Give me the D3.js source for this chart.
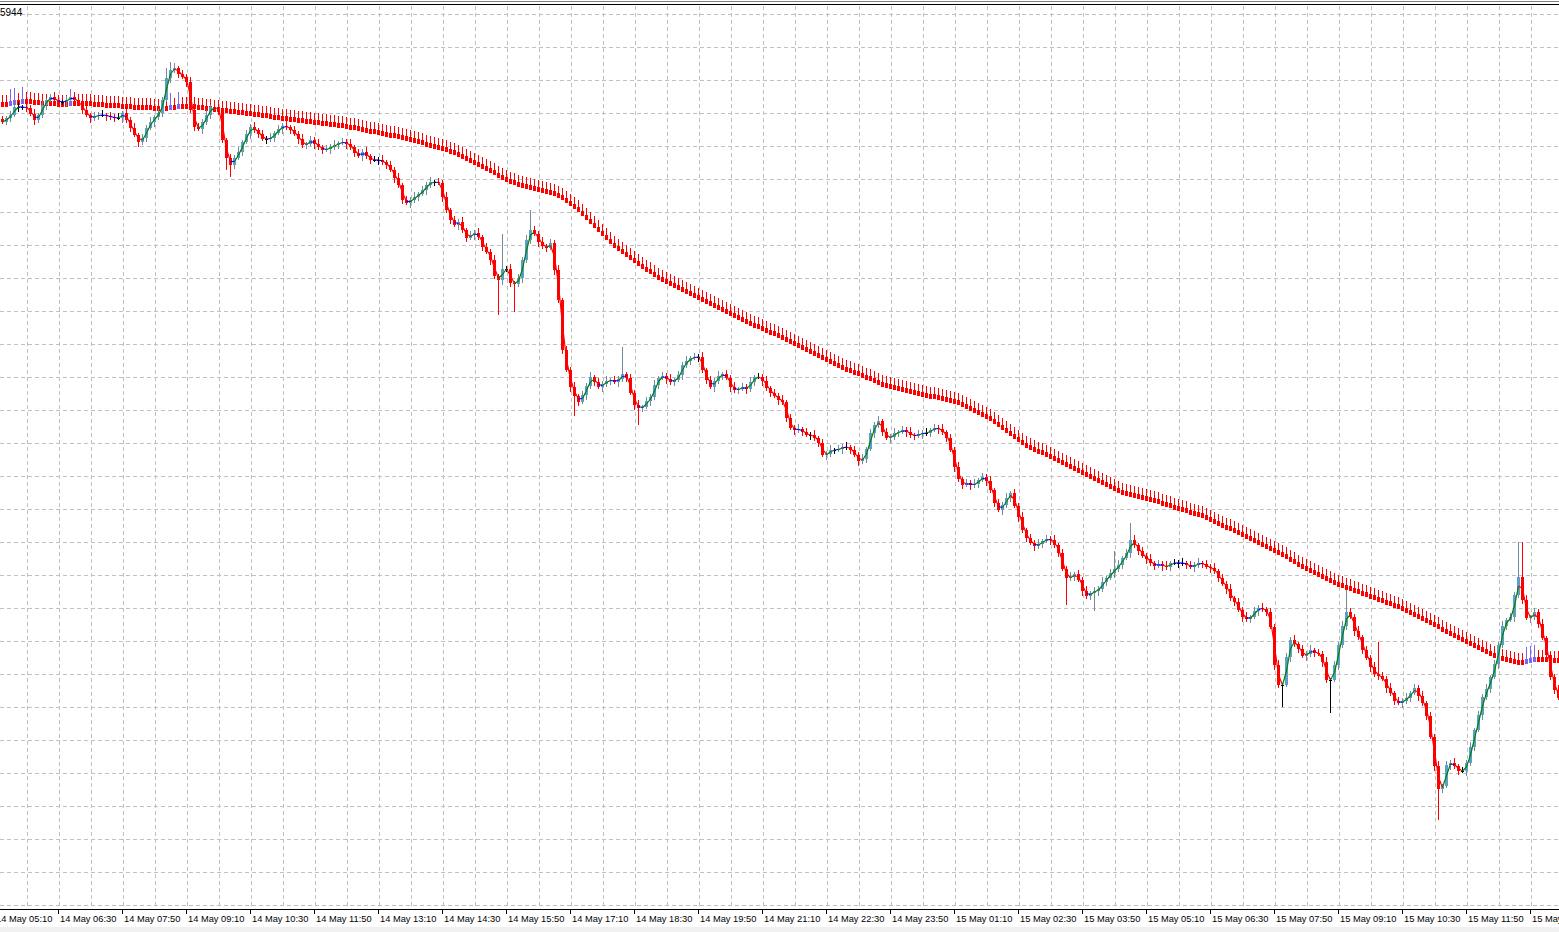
<!DOCTYPE html>
<html><head><meta charset="utf-8">
<script src="https://cdn.jsdelivr.net/npm/d3@7"></script>
<style>html,body{margin:0;padding:0;background:#fff;overflow:hidden}</style>
</head><body><svg id="c" width="1559" height="932"></svg>
<script>
// closes (points), one per 5-minute bar
const closes = [
5835,5839,5842,5850,5850,5850,5849,5843,5837,5842,
5852,5857,5860,5857,5855,5855,5857,5860,5857,5854,
5847,5842,5839,5841,5842,5842,5841,5840,5839,5839,
5844,5837,5829,5822,5815,5819,5829,5835,5840,5844,
5857,5879,5887,5889,5883,5880,5875,5847,5830,5828,
5835,5842,5850,5849,5847,5817,5799,5792,5799,5805,
5815,5823,5830,5827,5823,5818,5818,5819,5824,5828,
5831,5830,5827,5823,5818,5812,5813,5817,5813,5810,
5807,5808,5810,5812,5814,5815,5813,5810,5804,5801,
5805,5801,5797,5797,5797,5795,5792,5787,5779,5772,
5757,5754,5757,5760,5763,5767,5772,5775,5775,5774,
5760,5747,5737,5732,5735,5727,5719,5722,5724,5720,
5710,5705,5697,5681,5677,5688,5688,5674,5673,5679,
5697,5717,5727,5723,5715,5711,5709,5714,5687,5657,
5607,5587,5570,5561,5555,5562,5571,5580,5575,5570,
5573,5576,5577,5575,5578,5583,5579,5564,5552,5549,
5550,5556,5560,5572,5579,5581,5578,5575,5577,5582,
5592,5596,5599,5600,5600,5587,5577,5570,5576,5581,
5583,5579,5570,5567,5568,5570,5568,5575,5580,5580,
5576,5569,5564,5561,5557,
5555,5539,5529,5527,5528,5525,5522,5522,5519,5514,
5502,5503,5507,5507,5508,5510,5510,5507,5502,5496,
5498,5508,5524,5532,5536,5525,5519,5520,5524,5525,
5527,5525,5522,5521,5523,5524,5524,5527,5529,5528,
5525,5519,5507,5490,5478,5472,5474,5472,5473,5477,
5480,5476,5467,5454,5447,5452,5459,5464,5451,5440,
5427,5419,5414,5411,5413,5416,5418,5417,5412,5404,
5388,5379,5380,5383,5377,5366,5361,5364,5366,5368,
5375,5379,5384,5388,5392,5399,5404,5417,5412,5406,
5401,5398,5394,5391,5393,
5391,5390,5394,5394,5394,5394,5392,5390,5392,5394,
5393,5390,5389,5386,5379,5373,5368,5359,5355,5347,
5340,5338,5340,5346,5349,5348,5345,5330,5292,5272,
5272,5300,5317,5313,5308,5301,5303,5307,5304,5303,
5295,5277,5277,5292,5312,5331,5345,5340,5326,5320,
5307,5299,5290,5283,5281,5278,5269,5264,5256,5254,
5256,5259,5264,5269,5261,5254,5241,5220,5191,5168,
5171,5192,5194,5191,5186,5186,5194,5210,5227,5242,
5260,5268,5280,5293,5312,5331,5337,5340,5362,5380,
5357,5339,5340,5345,5333,5319,5302,5280,5267,5259];
// upper / lower wick lengths (base-36 digits, points)
const wickUp = "3243524352"+"4235324253"+"3524352435"+"2435243524"+"3a85243524"+"3524352435"+"2435243524"+"3524352435"+"2435243524"+"3524352435"+
"2435243524"+"3524352435"+"24352z3524"+"35k4352435"+"2435243524"+"35243r2435"+"2435243524"+"3524352435"+"2435243524"+"3524352435"+
"2435243524"+"3524352435"+"2435243524"+"3524352435"+"2435243524"+"3524352435"+"2435243524"+"35243524i5"+"24h5243524"+"3524352435"+
"2435243524"+"3524352435"+"2435243524"+"352435m435"+"2435w43524"+"3524352435"+"2435243524"+"352435243z"+"z524352435";
const wickDown = "2342534253"+"3524235342"+"4253425342"+"5342534253"+"4253425342"+"534253cc42"+"4253425342"+"5342534253"+"4253425342"+"5342534253"+
"4253425342"+"5342534253"+"4253z534s3"+"5342534253"+"425k425342"+"534253425h"+"4253425342"+"5342534253"+"4253425342"+"5342534253"+
"4253425342"+"5342534253"+"4253425342"+"5342534253"+"4253425342"+"5342534253"+"425342r342"+"534i534253"+"4253425342"+"5342534253"+
"4253425342"+"5342534253"+"m253425342"+"53x2534253"+"4253425342"+"534253425v"+"4253425342"+"5342534253"+"4253425342";
// slow moving average (points)
const slowMA = [
5853,5853,5854,5855,5855,5856,5856,5856,5855,5855,
5854,5854,5854,5854,5853,5853,5853,5854,5854,5854,
5854,5854,5854,5853,5853,5853,5852,5852,5852,5852,
5851,5851,5851,5850,5850,5850,5850,5850,5849,5849,
5849,5849,5850,5850,5851,5851,5851,5851,5851,5850,
5850,5849,5849,5848,5848,5847,5847,5846,5846,5845,
5845,5844,5844,5843,5843,5842,5842,5841,5840,5840,
5839,5839,5838,5838,5837,5837,5836,5836,5835,5835,
5834,5834,5833,5833,5832,5832,5831,5830,5830,5829,
5828,5827,5826,5826,5825,5824,5823,5822,5822,5821,
5820,5819,5818,5817,5816,5815,5813,5812,5811,5810,
5809,5808,5806,5805,5803,5801,5799,5797,5795,5793,
5791,5789,5787,5785,5782,5780,5778,5776,5775,5773,
5772,5771,5770,5769,5768,5767,5766,5765,5764,5762,
5760,5757,5754,5751,5748,5744,5740,5736,5732,5728,
5724,5720,5716,5712,5709,5706,5703,5700,5697,5694,
5691,5688,5686,5683,5680,5678,5676,5674,5672,5670,
5668,5666,5664,5662,5660,5658,5656,5654,5652,5650,
5648,5646,5644,5642,5640,5638,5636,5634,5632,5631,
5629,5627,5625,5624,5622,5620,5618,5616,5614,5612,
5610,5608,5606,5604,5602,5600,5598,5596,5594,5592,
5590,5588,5587,5585,5584,5582,5580,5579,5577,5575,
5573,5572,5571,5570,5569,5568,5567,5566,5565,5564,
5563,5562,5561,5561,5560,5559,5558,5557,5556,5555,
5553,5551,5549,5547,5545,5543,5541,5539,5536,5533,
5530,5527,5524,5521,5518,5515,5512,5510,5508,5506,
5505,5503,5501,5499,5497,5495,5493,5491,5489,5487,
5485,5483,5481,5479,5477,5475,5473,5471,5469,5467,
5465,5464,5463,5462,5461,5460,5459,5458,5457,5456,
5454,5453,5452,5450,5449,5448,5447,5445,5444,5443,
5442,5440,5438,5436,5434,5432,5430,5429,5427,5425,
5423,5421,5419,5417,5415,5413,5411,5409,5407,5405,
5403,5401,5398,5396,5393,5391,5389,5387,5385,5383,
5381,5379,5377,5375,5373,5372,5370,5369,5367,5366,
5364,5363,5361,5360,5358,5357,5355,5354,5352,5351,
5349,5347,5345,5343,5341,5339,5337,5335,5333,5331,
5328,5326,5324,5322,5320,5318,5316,5314,5312,5310,
5308,5306,5304,5302,5300,5299,5298,5297,5296,5295,
5295,5296,5297,5298,5298,5298,5298,5297,5297,5297];
const timeLabels = ["14 May 05:10","14 May 06:30","14 May 07:50","14 May 09:10","14 May 10:30","14 May 11:50","14 May 13:10","14 May 14:30","14 May 15:50","14 May 17:10","14 May 18:30","14 May 19:50","14 May 21:10","14 May 22:30","14 May 23:50","15 May 01:10","15 May 02:30","15 May 03:50","15 May 05:10","15 May 06:30","15 May 07:50","15 May 09:10","15 May 10:30","15 May 11:50","15 May 13:10"];
const topPriceLabel = "5944";

const W=1559,H=932, axisY=909;
const svg=d3.select("#c");
const x=d3.scaleLinear().domain([0,389]).range([2,1558]);
const y=d3.scaleLinear().domain([5944,5044]).range([13,913]);

const bars=closes.map((c,i)=>{
  const o=i?closes[i-1]:5838;
  return {i,o,c,h:Math.max(o,c)+parseInt(wickUp[i],36),l:Math.min(o,c)-parseInt(wickDown[i],36)};
});

// grid
const g=svg.append("g");
const gridX=d3.range(-2,392,8);
g.selectAll("line.vx").data(gridX).join("line")
 .attr("x1",d=>Math.round(x(d))+1.5).attr("x2",d=>Math.round(x(d))+1.5)
 .attr("y1",6).attr("y2",axisY).attr("stroke","#c0c0c0").attr("stroke-dasharray","4,3");
const gridY=d3.range(5943,5040,-33);
g.selectAll("line.hy").data(gridY).join("line")
 .attr("x1",0).attr("x2",W).attr("y1",d=>Math.round(y(d))+.5).attr("y2",d=>Math.round(y(d))+.5)
 .attr("stroke","#c0c0c0").attr("stroke-dasharray","4,3");

// slow MA candles
const ma=svg.append("g");
slowMA.forEach((v,i)=>{
  const up=i>0 && v>slowMA[i-1];
  const col=up?"#7b68ee":"#ff0000";
  const cx=Math.round(x(i));
  ma.append("line").attr("x1",cx+.5).attr("x2",cx+.5).attr("y1",y(v)).attr("y2",y(v)-(up?14:9)).attr("stroke",col);
  ma.append("rect").attr("x",cx-1).attr("y",y(v)-2).attr("width",3).attr("height",5).attr("fill",col);
});

// price candles
const cg=svg.append("g");
bars.forEach(b=>{
  const cx=Math.round(x(b.i));
  const bull=b.c>b.o, doji=b.c===b.o;
  const body=doji?"#000":bull?"#5a9ecb":"#ff0000";
  const wick=doji?"#000":bull?"#778899":"#ff0000";
  cg.append("line").attr("x1",cx+.5).attr("x2",cx+.5).attr("y1",y(b.h)).attr("y2",y(b.l)).attr("stroke",wick);
  const top=y(Math.max(b.o,b.c)), bot=y(Math.min(b.o,b.c));
  cg.append("rect").attr("x",cx-1).attr("y",top).attr("width",3).attr("height",Math.max(1,bot-top)).attr("fill",body);
});

// fast smoothing line
const fast=closes.map((c,i)=>{const a=closes.slice(Math.max(0,i-1),i+1);return d3.mean(a);});
const lg=svg.append("g");
for(let i=1;i<fast.length;i++){
  const d=fast[i]-fast[i-1];
  const col=Math.abs(d)<1.2?"#0000ff":d>0?"#008000":"#ff0000";
  lg.append("line").attr("x1",x(i-1)+.5).attr("x2",x(i)+.5).attr("y1",y(fast[i-1])).attr("y2",y(fast[i]))
   .attr("stroke",col).attr("stroke-width",1.2);
}

// frame
svg.append("line").attr("x1",0).attr("x2",W).attr("y1",1.5).attr("y2",1.5).attr("stroke","#808080");
svg.append("line").attr("x1",0).attr("x2",W).attr("y1",4.5).attr("y2",4.5).attr("stroke","#000");
svg.append("line").attr("x1",0).attr("x2",W).attr("y1",axisY+.5).attr("y2",axisY+.5).attr("stroke","#000");
svg.append("rect").attr("x",0).attr("y",927).attr("width",W).attr("height",5).attr("fill","#f0f0f0");
svg.append("text").attr("x",0).attr("y",16).text(topPriceLabel)
 .attr("font-family","Liberation Sans, Arial, sans-serif").attr("font-size",10).attr("fill","#000");

// time axis
const ax=svg.append("g");
timeLabels.forEach((t,k)=>{
  const bi=-2+16*k, tx=Math.round(x(bi));
  ax.append("line").attr("x1",tx+.5).attr("x2",tx+.5).attr("y1",axisY).attr("y2",axisY+5).attr("stroke","#000");
  ax.append("text").attr("x",tx+2).attr("y",922).text(t)
   .attr("font-family","Liberation Sans, Arial, sans-serif").attr("font-size",9.3).attr("fill","#000");
});
</script></body></html>
